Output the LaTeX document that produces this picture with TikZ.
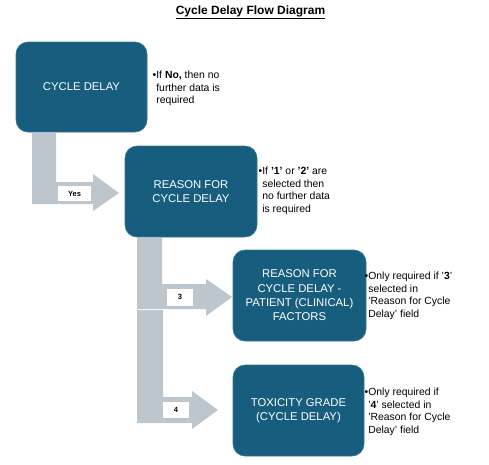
\documentclass[tikz,border=0pt]{standalone}
\usepackage{fontspec}
\setmainfont{Liberation Sans}
\usetikzlibrary{calc}
\definecolor{boxblue}{HTML}{175E7E}
\definecolor{arrgray}{HTML}{BDC5CD}
\newcommand{\bulnote}[1]{\begin{tabular}{@{}l@{}l@{}}\textbullet&#1\end{tabular}}
\tikzset{
  flowbox/.style={rounded corners=12pt, fill=boxblue, draw=boxblue!85!white, line width=0.6pt,
    text=white, font=\fontsize{11.3}{14.3}\selectfont, align=center, inner sep=0pt},
  notetext/.style={anchor=north west, inner sep=0pt, align=left,
    font=\fontsize{10.4}{12.4}\selectfont},
  blockarrow/.style={fill=arrgray, draw=none},
  tagbox/.style={fill=white, inner sep=0pt, font=\bfseries\fontsize{7.5}{8}\selectfont}
}
\begin{document}
\begin{tikzpicture}[x=1pt,y=-1pt]
\useasboundingbox (0,0) rectangle (489,464);
% title
\node[font=\bfseries\fontsize{12}{14}\selectfont, inner sep=0pt] (title) at (250.5,12) {\underline{Cycle Delay Flow Diagram}};
% boxes
\node[flowbox, minimum width=131pt, minimum height=90pt] (b1) at (81.5,87) {CYCLE DELAY};
\node[flowbox, minimum width=132pt, minimum height=91pt] (b2) at (191,191.5) {REASON FOR\\CYCLE DELAY};
\node[flowbox, minimum width=133pt, minimum height=91pt] (b3) at (299.5,295.5) {REASON FOR\\CYCLE DELAY -\\PATIENT (CLINICAL)\\FACTORS};
\node[flowbox, minimum width=131pt, minimum height=91pt] (b4) at (298.5,410.5) {TOXICITY GRADE\\(CYCLE DELAY)};
% block arrows
\fill[blockarrow] (32,133) -- (56,133) -- (56,182) -- (93,182) -- (93,174) -- (119,193) -- (93,211) -- (93,204) -- (32,204) -- cycle;
\fill[blockarrow] (137,238) -- (162,238) -- (162,284) -- (206,284) -- (206,279) -- (232,297) -- (206,316) -- (206,309) -- (137,309) -- cycle;
\fill[blockarrow] (137,310) -- (163,310) -- (163,397) -- (192,397) -- (192,391) -- (218,410) -- (192,429) -- (192,423) -- (137,423) -- cycle;
% tags
\node[tagbox, minimum width=33pt, minimum height=15pt] (tyes) at (74.5,193.5) {Yes};
\node[tagbox, minimum width=26pt, minimum height=17pt] (t3) at (180,297) {3};
\node[tagbox, minimum width=26pt, minimum height=16pt] (t4) at (176,410) {4};
% notes
\node[notetext] (n1) at (152.5,70) {\bulnote{If \textbf{No,} then no\\&further data is\\&required}};
\node[notetext] (n2) at (258.5,166) {\bulnote{If \textbf{'1'} or \textbf{'2'} are\\&selected then\\&no further data\\&is required}};
\node[notetext] (n3) at (364.5,271) {\bulnote{Only required if '\textbf{3}'\\&selected in\\&'Reason for Cycle\\&Delay' field}};
\node[notetext] (n4) at (364.5,387) {\bulnote{Only required if\\&'\textbf{4}' selected in\\&'Reason for Cycle\\&Delay' field}};
\end{tikzpicture}
\end{document}
